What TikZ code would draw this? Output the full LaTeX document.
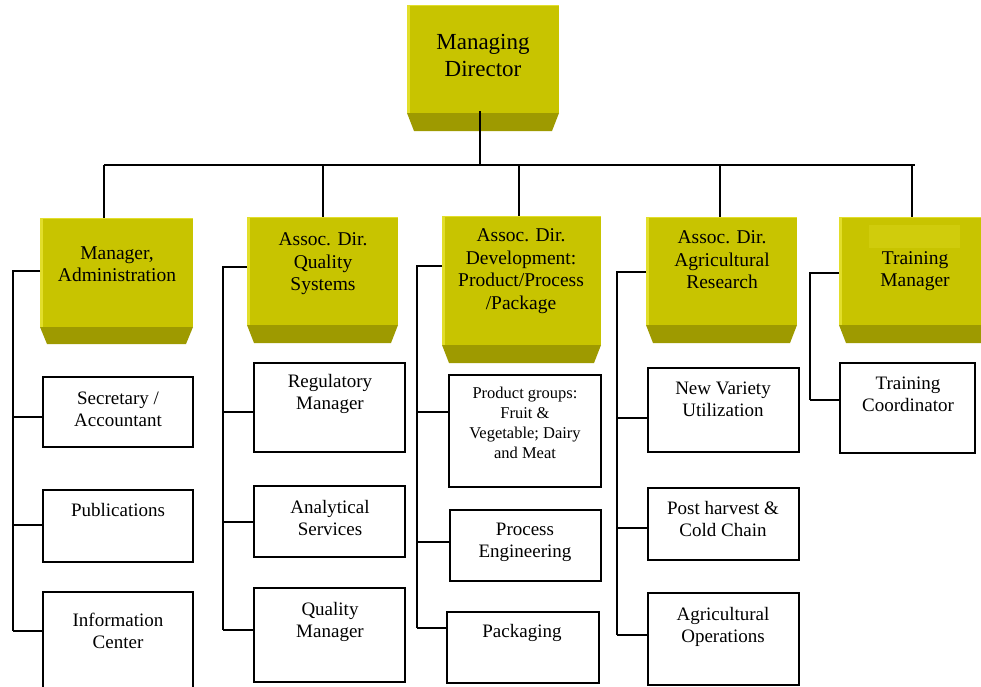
\documentclass[tikz,border=0pt]{standalone}
\usepackage{fontspec}
\setmainfont{Liberation Serif}
\usetikzlibrary{fit}
\definecolor{facec}{HTML}{C8C400}
\definecolor{trapc}{HTML}{9E9A00}
\definecolor{edgec}{HTML}{E2DE2A}
\definecolor{innerc}{HTML}{D0CC0C}
\tikzset{
  conn/.style={draw=black, line width=1.1pt},
  facebox/.style={fill=facec, inner sep=0pt, outer sep=0pt},
  wbox/.style={draw=black, line width=1.1pt, fill=white, inner sep=0pt, outer sep=0pt},
  tmd/.style={font=\fontsize{23}{27}\selectfont, align=center, inner sep=0pt},
  ttwo/.style={font=\fontsize{19.5}{22.5}\selectfont, align=center, inner sep=0pt},
  tthree/.style={font=\fontsize{19}{22}\selectfont, align=center, inner sep=0pt},
  tfour/.style={font=\fontsize{16.5}{20}\selectfont, align=center, inner sep=0pt}
}
\newcommand\tdbox[6]{%
  \fill[trapc] (#2,#5) -- (#4,#5) -- ({#4-7},#6) -- ({#2+7},#6) -- cycle;
  \node[facebox, fit={(#2,#3) (#4,#5)}] (#1) {};
  \fill[edgec] (#2,#3) rectangle ({#2+2.5},#5);
  \fill[edgec] (#2,#3) rectangle (#4,{#3+1.2});
}
\newcommand\wbx[5]{\node[wbox, fit={(#2,#3) (#4,#5)}] (#1) {};}
\begin{document}
\begin{tikzpicture}[x=1pt,y=-1pt]
\clip (0,0) rectangle (981,686);
\fill[white] (0,0) rectangle (981,686);

% level 1 and 2 boxes
\tdbox{md}{407}{5}{559}{113}{131}
\tdbox{adm}{40}{218}{193}{327}{344}
\tdbox{qs}{247}{217}{398}{325}{343}
\tdbox{dev}{442}{216}{601}{345}{363}
\tdbox{agr}{646}{217}{797}{325}{343}
\tdbox{trn}{839}{217}{992}{325}{343}
\fill[innerc] (869,225) rectangle (960,248);

% level 3 boxes
\wbx{sec}{43}{377}{193}{447}
\wbx{pub}{43}{490}{193}{562}
\wbx{info}{43}{592}{193}{700}
\wbx{reg}{254}{363}{405}{452}
\wbx{ana}{254}{486}{405}{557}
\wbx{qm}{254}{588}{405}{682}
\wbx{pg}{449}{375}{601}{487}
\wbx{pe}{450}{510}{601}{581}
\wbx{pk}{447}{612}{599}{683}
\wbx{nv}{648}{368}{799}{452}
\wbx{ph}{648}{488}{799}{560}
\wbx{ao}{648}{593}{799}{685}
\wbx{tc}{840}{363}{975}{453}

% texts
\node[tmd] (mdT) at (483,55) {Managing\\Director};
\node[ttwo] (admT) at (117,264) {Manager,\\Administration};
\node[ttwo] (qsT) at (323,264) {Assoc. Dir.\\Quality\\Systems};
\node[ttwo] (devT) at (521,271) {Assoc. Dir.\\Development:\\Product/Process\\/Package};
\node[ttwo] (agrT) at (722,260) {Assoc. Dir.\\Agricultural\\Research};
\node[ttwo] (trnT) at (915,271) {Training\\Manager};
\node[tthree] (secT) at (118,409) {Secretary /\\Accountant};
\node[tthree] (pubT) at (118,510) {Publications};
\node[tthree] (infoT) at (118,631) {Information\\Center};
\node[tthree] (regT) at (330,394) {Regulatory\\Manager};
\node[tthree] (anaT) at (330,518) {Analytical\\Services};
\node[tthree] (qmT) at (330,622) {Quality\\Manager};
\node[tfour] (pgT) at (525,423) {Product groups:\\Fruit \&\\Vegetable; Dairy\\and Meat};
\node[tthree] (peT) at (525,542) {Process\\Engineering};
\node[tthree] (pkT) at (522,633) {Packaging};
\node[tthree] (nvT) at (723,399) {New Variety\\Utilization};
\node[tthree] (phT) at (723,519) {Post harvest \&\\Cold Chain};
\node[tthree] (aoT) at (723,627) {Agricultural\\Operations};
\node[tthree] (tcT) at (908,394) {Training\\Coordinator};

% bus
\coordinate (top) at (480,111);
\coordinate (busW) at (104,165);
\coordinate (busE) at (915,165);
\coordinate (d1) at (104,165);
\coordinate (d2) at (323,165);
\coordinate (d3) at (519,165);
\coordinate (d4) at (720,165);
\coordinate (d5) at (912,165);
\draw[conn] (top) -- (top |- busW);
\draw[conn] (busW) -- (busE);
\foreach \d/\b in {d1/adm, d2/qs, d3/dev, d4/agr, d5/trn}
  \draw[conn] (\d) -- (\d |- \b.north);

% side trunks
\coordinate (s1) at (13,271);
\coordinate (s2) at (223,267);
\coordinate (s3) at (417,266);
\coordinate (s4) at (617,272);
\coordinate (s5) at (810,273);
\draw[conn] (adm.west |- s1) -- (s1) -- (13,631);
\draw[conn] (qs.west |- s2) -- (s2) -- (223,630);
\draw[conn] (dev.west |- s3) -- (s3) -- (417,628);
\draw[conn] (agr.west |- s4) -- (s4) -- (617,635);
\draw[conn] (trn.west |- s5) -- (s5) -- (810,400);

% branches
\draw[conn] (13,417) -- (sec.west |- 0,417);
\draw[conn] (13,525) -- (pub.west |- 0,525);
\draw[conn] (13,631) -- (info.west |- 0,631);
\draw[conn] (223,412) -- (reg.west |- 0,412);
\draw[conn] (223,522) -- (ana.west |- 0,522);
\draw[conn] (223,630) -- (qm.west |- 0,630);
\draw[conn] (417,412) -- (pg.west |- 0,412);
\draw[conn] (417,542) -- (pe.west |- 0,542);
\draw[conn] (417,628) -- (pk.west |- 0,628);
\draw[conn] (617,418) -- (nv.west |- 0,418);
\draw[conn] (617,528) -- (ph.west |- 0,528);
\draw[conn] (617,635) -- (ao.west |- 0,635);
\draw[conn] (810,400) -- (tc.west |- 0,400);
\end{tikzpicture}
\end{document}
